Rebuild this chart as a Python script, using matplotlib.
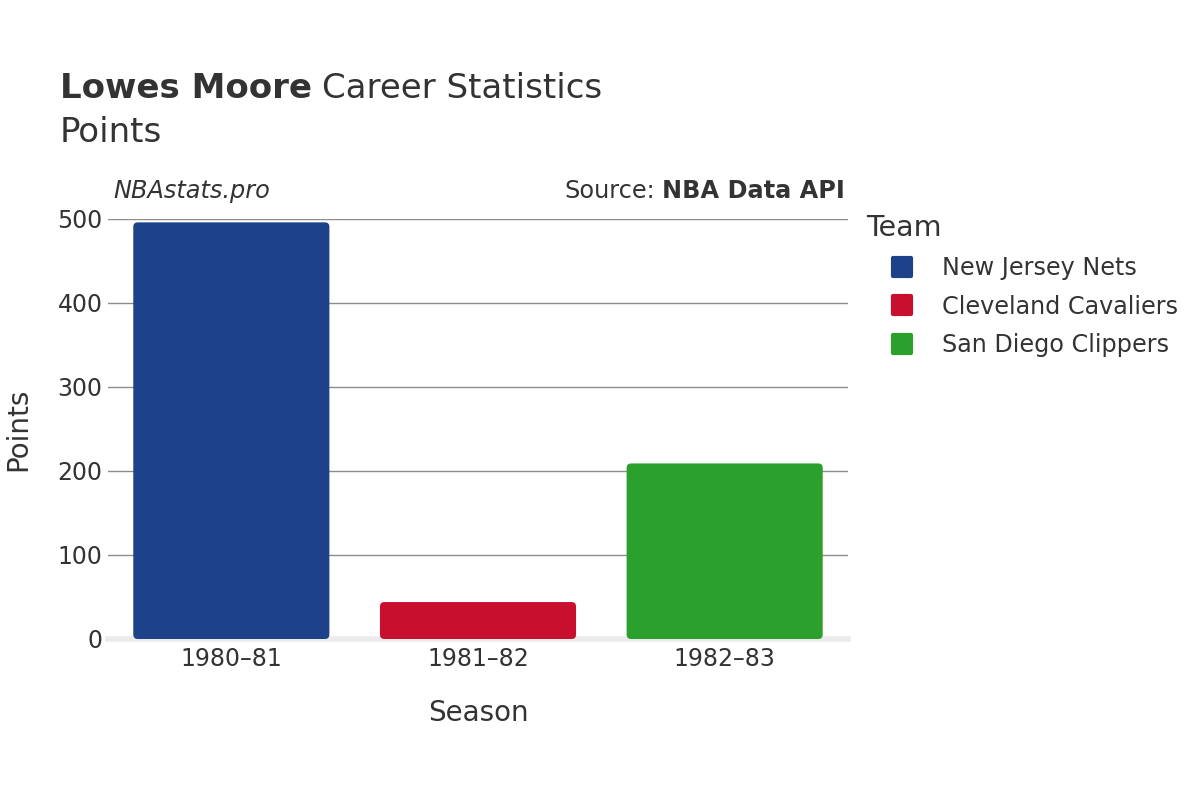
import matplotlib.pyplot as plt
import numpy as np
from matplotlib.patches import FancyBboxPatch
from matplotlib.lines import Line2D
from matplotlib.markers import MarkerStyle

# data
seasons = ['1980–81', '1981–82', '1982–83']
teams = ['New Jersey Nets', 'Cleveland Cavaliers', 'San Diego Clippers']
points = [496, 44, 209]
colors = ['#1d428a', '#c8102e', '#2ca02c']
yticks = [0, 100, 200, 300, 400, 500]

txt = '#333333'
plt.rcParams['font.family'] = ['DejaVu Sans']

fig = plt.figure(figsize=(12, 8), dpi=100)
ax = fig.add_axes([108/1200, 1-639/800, 740/1200, 420/800])

x = np.arange(len(seasons))
bars = ax.bar(x, points, width=0.795, color=colors)
# swap plain rectangles for slightly rounded ones
for b in bars:
    bx, by = b.get_x(), b.get_y()
    w, h = b.get_width(), b.get_height()
    rp = FancyBboxPatch((bx, by), w, h, boxstyle='round,pad=0,rounding_size=0.018',
                        mutation_aspect=297, facecolor=b.get_facecolor(),
                        edgecolor='none', zorder=2)
    b.set_visible(False)
    ax.add_patch(rp)

ax.set_xlim(-0.5, 2.5)
ax.set_ylim(0, 500)
ax.set_yticks(yticks)
ax.set_xticks(x)
ax.set_xticklabels(seasons)
ax.grid(axis='y', color='#8c8c8c', linewidth=1)
ax.set_axisbelow(True)
for s in ax.spines.values():
    s.set_visible(False)
ax.axhline(0, color='#ebebeb', linewidth=4, zorder=1.5, clip_on=False)
ax.tick_params(length=0, labelsize=17, colors=txt)
ax.tick_params(axis='y', pad=4)
ax.tick_params(axis='x', pad=6)

ax.set_xlabel('Season', fontsize=20, color=txt, labelpad=20)
ax.set_ylabel('Points', fontsize=20, color=txt, labelpad=18)

# title
t1 = fig.text(60/1200, 1-89/800, 'Lowes Moore', fontsize=24.5, fontweight='bold',
              color=txt, va='center', ha='left')
fig.canvas.draw()
bb = t1.get_window_extent(fig.canvas.get_renderer())
fig.text(bb.x1/1200 + 0.008, 1-89/800, 'Career Statistics', fontsize=24.5,
         color=txt, va='center', ha='left')
fig.text(60/1200, 1-133/800, 'Points', fontsize=24.5, color=txt, va='center', ha='left')

fig.text(113/1200, 1-191/800, 'NBAstats.pro', fontsize=17.3, style='italic',
         color=txt, va='center', ha='left')
s1 = fig.text(845/1200, 1-191/800, 'NBA Data API', fontsize=17.3, fontweight='bold',
              color=txt, va='center', ha='right')
fig.canvas.draw()
bb2 = s1.get_window_extent(fig.canvas.get_renderer())
fig.text(bb2.x0/1200 - 0.006, 1-191/800, 'Source:', fontsize=17.3,
         color=txt, va='center', ha='right')

# legend
handles = [Line2D([], [], linestyle='none',
                  marker=MarkerStyle('s', joinstyle='round'), markersize=13,
                  markerfacecolor=c, markeredgecolor=c, markeredgewidth=3)
           for c in colors]
leg = fig.legend(handles, teams, loc='upper left', bbox_to_anchor=(859/1200, 1-207/800),
                 frameon=False, title='Team', fontsize=17.2, title_fontsize=20.5,
                 handlelength=3.0, handletextpad=0.18, labelspacing=0.6,
                 borderaxespad=0, borderpad=0.3)
leg._legend_box.align = 'left'
for t in leg.get_texts():
    t.set_color(txt)
leg.get_title().set_color(txt)

fig.savefig('out.png', dpi=100, facecolor='white')
